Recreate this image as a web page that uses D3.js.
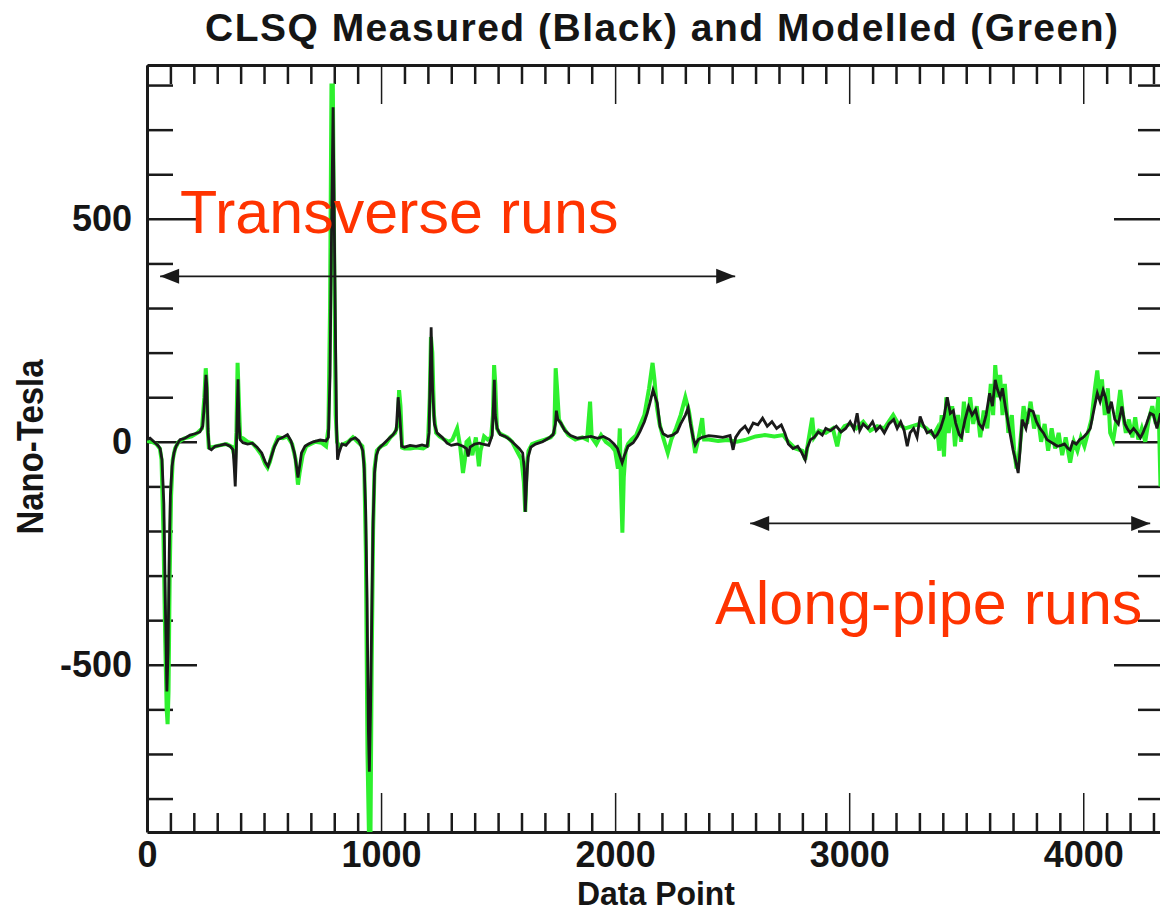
<!DOCTYPE html>
<html lang="en">
<head>
<meta charset="utf-8">
<title>CLSQ Measured and Modelled</title>
<script type="text/javascript" src="https://d3js.org/d3.v7.min.js"></script>
<style type="text/css">
    body { margin: 0; background: #ffffff; }
    svg { display: block; }
    .axis path, .axis line { stroke: #1a1a1a; }
    .axis text {
        font-family: "Liberation Sans", Arial, Helvetica, sans-serif;
        font-weight: bold;
        font-size: 36px;
        fill: #151515;
    }
    .title, .ylabel, .xlabel {
        font-family: "Liberation Sans", Arial, Helvetica, sans-serif;
        font-weight: bold;
        fill: #151515;
    }
    .note {
        font-family: "Liberation Sans", Arial, Helvetica, sans-serif;
        font-size: 61px;
        fill: #ff3300;
    }
</style>
</head>
<body>
<script type="text/javascript">

// ---- data (data point index, nano-tesla) ----
const measuredPoint = [0,13,30,47,56,64,72,78,85,90,95,100,107,115,124,141,162,184,205,226,238,246,252,256,261,266,275,291,312,333,355,368,373,377,381,385,389,393,398,410,430,450,470,490,505,517,530,545,560,580,600,615,630,640,645,652,660,675,690,710,740,765,775,782,788,795,800,806,810,814,820,833,850,870,890,905,915,922,928,934,940,946,950,955,960,966,972,980,990,1010,1035,1051,1065,1073,1080,1088,1100,1124,1150,1175,1197,1205,1210,1214,1220,1228,1239,1261,1282,1300,1325,1350,1365,1372,1380,1400,1420,1440,1460,1475,1480,1484,1488,1496,1509,1530,1550,1570,1590,1605,1612,1616,1622,1628,1640,1660,1690,1715,1735,1745,1749,1755,1768,1785,1810,1840,1870,1897,1925,1950,1975,1995,2010,2022,2030,2040,2055,2077,2095,2107,2125,2137,2150,2162,2172,2180,2192,2205,2225,2245,2265,2280,2300,2312,2322,2333,2342,2355,2372,2400,2430,2460,2491,2504,2515,2534,2555,2570,2590,2610,2630,2650,2670,2690,2710,2725,2740,2760,2780,2795,2812,2820,2835,2850,2868,2885,2900,2920,2945,2965,2985,3004,3020,3034,3045,3060,3080,3100,3115,3132,3150,3170,3190,3205,3220,3235,3248,3260,3275,3290,3303,3315,3333,3350,3365,3376,3390,3405,3419,3432,3445,3455,3470,3480,3495,3510,3525,3540,3555,3570,3585,3600,3612,3624,3632,3645,3655,3667,3680,3700,3710,3722,3730,3739,3755,3770,3786,3800,3815,3830,3845,3860,3875,3889,3905,3920,3935,3944,3955,3970,3985,4000,4017,4030,4045,4060,4072,4085,4095,4107,4120,4135,4150,4165,4178,4188,4200,4215,4230,4244,4255,4270,4286,4300,4315,4330,4340];
const measuredNT = [5,8,0,-8,-15,-40,-140,-350,-560,-470,-250,-120,-55,-25,-10,5,8,15,18,22,35,90,150,120,20,-15,-18,-10,-8,-5,-10,-18,-60,-100,-40,60,140,40,5,-2,-5,-3,-12,-25,-45,-55,-35,-10,5,10,16,2,-25,-60,-80,-55,-25,-10,-5,0,4,2,10,150,450,750,500,200,30,-40,-25,-5,-8,5,9,2,-10,-20,-60,-150,-350,-650,-740,-600,-400,-180,-70,-30,-15,-5,8,16,27,100,60,-10,-12,-8,-10,-7,-10,20,150,257,120,40,20,10,-3,-8,-5,-10,-15,-33,-12,-5,-3,-6,-8,15,80,139,60,30,16,12,5,-5,-15,-25,-60,-157,-90,-35,-12,-5,0,8,16,40,70,50,42,25,14,8,10,12,8,12,5,-5,-15,-35,-47,-30,-10,-2,12,24,45,64,90,116,100,87,34,18,12,15,22,40,60,76,40,10,-7,5,10,14,12,10,14,-18,10,25,35,22,42,38,53,35,45,30,38,20,-5,-15,-10,-22,-40,-15,5,10,22,15,30,25,35,22,30,45,28,64,25,40,30,45,25,35,20,40,50,30,45,25,-10,20,30,10,57,40,20,25,10,16,30,55,100,64,70,42,16,10,50,79,60,72,40,30,60,109,80,139,120,100,120,79,40,-18,-40,-70,-20,50,30,72,68,45,30,20,5,0,-5,-10,-8,-5,-15,-18,0,-5,5,10,20,30,70,109,90,116,100,64,90,50,40,79,40,30,20,30,20,9,20,40,64,60,30,64,20];

const modelledPoint = [0,20,40,55,62,70,78,84,88,92,97,103,110,120,135,160,190,215,235,245,251,255,259,264,280,310,340,365,376,382,387,392,398,410,430,450,470,490,505,515,525,540,560,580,600,620,635,645,652,665,680,700,720,745,765,775,782,788,794,800,806,812,820,840,860,880,900,920,928,935,942,948,955,960,966,972,982,1000,1020,1040,1060,1072,1077,1083,1090,1100,1125,1150,1180,1200,1208,1213,1219,1226,1235,1250,1270,1290,1305,1325,1338,1350,1358,1365,1375,1390,1405,1418,1425,1440,1455,1470,1478,1483,1488,1495,1505,1520,1540,1560,1580,1600,1610,1616,1622,1630,1645,1670,1700,1725,1740,1746,1752,1760,1775,1800,1830,1860,1880,1893,1900,1920,1940,1960,1985,2000,2012,2020,2025,2031,2037,2045,2055,2070,2090,2105,2125,2145,2160,2168,2178,2190,2205,2225,2240,2260,2280,2300,2315,2330,2342,2355,2372,2380,2400,2440,2480,2520,2560,2600,2640,2680,2718,2740,2770,2800,2812,2825,2842,2850,2870,2900,2930,2949,2960,2980,3004,3030,3060,3090,3120,3150,3188,3210,3240,3270,3300,3330,3360,3376,3385,3395,3405,3415,3425,3440,3452,3465,3478,3490,3505,3517,3530,3545,3560,3575,3590,3605,3615,3624,3635,3645,3655,3665,3680,3695,3705,3715,3722,3735,3745,3760,3775,3790,3805,3820,3835,3850,3865,3880,3895,3910,3925,3944,3960,3975,3990,4005,4020,4035,4050,4060,4070,4080,4092,4105,4115,4128,4145,4158,4170,4182,4195,4210,4222,4235,4250,4265,4280,4295,4310,4321,4330,4340];
const modelledNT = [2,0,-5,-15,-40,-200,-450,-600,-633,-560,-300,-120,-40,-15,0,8,12,20,30,100,165,130,30,-12,-12,-8,-5,-12,-40,20,177,100,10,8,0,-3,-15,-30,-50,-58,-45,-15,10,8,12,-5,-40,-96,-70,-30,-10,-5,0,-2,-10,30,300,799,799,400,60,0,-10,-5,0,10,0,-10,-50,-250,-700,-875,-875,-500,-200,-60,-20,-10,-5,10,20,40,116,80,-13,-15,-15,-13,-15,-8,100,235,200,60,20,12,5,0,5,30,-10,-70,-40,0,5,-30,10,-55,-20,12,5,10,60,172,130,30,20,15,10,0,-20,-40,-90,-157,-55,-20,-5,0,5,10,20,165,120,50,35,15,5,10,5,90,10,-5,15,0,-10,-20,-60,30,-100,-204,-80,-20,-5,5,15,35,60,120,177,140,80,40,10,-25,5,30,60,100,70,20,-25,5,53,5,5,2,4,0,5,12,15,12,15,0,-15,-20,-40,0,54,10,25,20,30,-10,20,35,40,30,45,25,35,30,60,40,30,35,40,30,15,30,-20,60,-33,100,20,80,-10,60,0,90,20,100,40,80,10,70,30,130,60,172,100,150,60,130,20,60,-20,-60,-47,20,80,40,90,30,60,0,40,-20,30,-15,20,-30,10,-47,0,-20,10,-10,20,50,120,160,100,140,60,120,20,4,60,116,60,20,50,10,55,5,30,0,50,80,40,100,-100,20];

// axis tick labels
const xMajorTicks = [0, 1000, 2000, 3000, 4000];
const yMajorTicks = [-500, 0, 500];

// text notes and arrows, in data units
const noteText = ["Transverse runs", "Along-pipe runs"];
const notePoint = [141, 2427];
const noteNT = [468, -409];
const arrowFrom = [56, 2577];
const arrowTo = [2513, 4286];
const arrowNT = [371, -183];

// ---- chart size ----
const width = 1160;
const height = 913;
const plotLeft = 147, plotRight = 1164, plotTop = 65, plotBottom = 832;

const x = d3.scaleLinear().domain([0, 4345]).range([plotLeft, plotRight]);
const y = d3.scaleLinear().domain([-875, 845]).range([plotBottom, plotTop]);

const svg = d3.select("body")
    .append("svg")
    .attr("width", width)
    .attr("height", height);

// minor tick values every 100
const xMinor = d3.range(0, 4400, 100).filter(d => d % 1000 !== 0);
const yMinor = d3.range(-800, 900, 100).filter(d => d % 500 !== 0);

// plain hyphen minus like the original, not the unicode minus
const plainNumber = d => String(d);

// bottom axis (labels) + minor ticks
const gBottom = svg.append("g")
    .attr("class", "axis")
    .attr("transform", "translate(0," + plotBottom + ")")
    .call(d3.axisBottom(x).tickValues(xMajorTicks).tickSize(-39).tickSizeOuter(0).tickPadding(9).tickFormat(plainNumber));
gBottom.append("g").call(d3.axisBottom(x).tickValues(xMinor).tickSize(-19).tickSizeOuter(0).tickFormat(""))
    .call(g => g.select(".domain").remove());

// top axis, no labels
const gTop = svg.append("g")
    .attr("class", "axis")
    .attr("transform", "translate(0," + plotTop + ")")
    .call(d3.axisTop(x).tickValues(xMajorTicks).tickSize(-39).tickSizeOuter(0).tickFormat(""));
gTop.append("g").call(d3.axisTop(x).tickValues(xMinor).tickSize(-19).tickSizeOuter(0).tickFormat(""))
    .call(g => g.select(".domain").remove());

// left axis (labels)
const gLeft = svg.append("g")
    .attr("class", "axis")
    .attr("transform", "translate(" + plotLeft + ",0)")
    .call(d3.axisLeft(y).tickValues(yMajorTicks).tickSize(-50).tickSizeOuter(0).tickPadding(15).tickFormat(plainNumber));
gLeft.append("g").call(d3.axisLeft(y).tickValues(yMinor).tickSize(-26).tickSizeOuter(0).tickFormat(""))
    .call(g => g.select(".domain").remove());

// right axis, no labels
const gRight = svg.append("g")
    .attr("class", "axis")
    .attr("transform", "translate(" + plotRight + ",0)")
    .call(d3.axisRight(y).tickValues(yMajorTicks).tickSize(-50).tickSizeOuter(0).tickFormat(""));
gRight.append("g").call(d3.axisRight(y).tickValues(yMinor).tickSize(-26).tickSizeOuter(0).tickFormat(""))
    .call(g => g.select(".domain").remove());

svg.selectAll(".axis .domain").attr("stroke-width", 3);
svg.selectAll(".axis .tick line").attr("stroke-width", 2.5);
gBottom.selectAll(":scope > .tick line").attr("stroke-width", 1.5);
gTop.selectAll(":scope > .tick line").attr("stroke-width", 1.5);

// clip lines to the plot box
svg.append("clipPath").attr("id", "box")
    .append("rect")
    .attr("x", plotLeft).attr("y", plotTop)
    .attr("width", plotRight - plotLeft).attr("height", plotBottom - plotTop);

const line = d3.line()
    .x(d => x(d[0]))
    .y(d => y(d[1]));

// modelled (green) first, measured (black) on top
svg.append("path")
    .datum(modelledPoint.map((p, i) => [p, modelledNT[i]]))
    .attr("clip-path", "url(#box)")
    .attr("fill", "none")
    .attr("stroke", "#2ef02e")
    .attr("stroke-width", 4)
    .attr("d", line);

svg.append("path")
    .datum(measuredPoint.map((p, i) => [p, measuredNT[i]]))
    .attr("clip-path", "url(#box)")
    .attr("fill", "none")
    .attr("stroke", "#1a1a1a")
    .attr("stroke-width", 2.8)
    .attr("d", line);

// red notes
svg.selectAll(".note")
    .data(noteText)
    .enter()
    .append("text")
    .attr("class", "note")
    .attr("x", (d, i) => x(notePoint[i]))
    .attr("y", (d, i) => y(noteNT[i]))
    .text(d => d);

// double arrows
const head = 19, half = 7.5;
arrowNT.forEach(function (v, i) {
    const x0 = x(arrowFrom[i]), x1 = x(arrowTo[i]), yy = y(v);
    svg.append("line")
        .attr("x1", x0).attr("x2", x1)
        .attr("y1", yy).attr("y2", yy)
        .attr("stroke", "#1a1a1a")
        .attr("stroke-width", 1.6);
    svg.append("path")
        .attr("d", "M" + x0 + "," + yy + "L" + (x0 + head) + "," + (yy - half) + "L" + (x0 + head) + "," + (yy + half) + "Z")
        .attr("fill", "#1a1a1a");
    svg.append("path")
        .attr("d", "M" + x1 + "," + yy + "L" + (x1 - head) + "," + (yy - half) + "L" + (x1 - head) + "," + (yy + half) + "Z")
        .attr("fill", "#1a1a1a");
});

// title and axis titles
svg.append("text")
    .attr("class", "title")
    .attr("x", 205)
    .attr("y", 41)
    .attr("font-size", 39)
    .attr("textLength", 913)
    .attr("lengthAdjust", "spacing")
    .text("CLSQ Measured (Black) and Modelled (Green)");

svg.append("text")
    .attr("class", "xlabel")
    .attr("x", 577)
    .attr("y", 905)
    .attr("font-size", 33)
    .attr("textLength", 158)
    .attr("lengthAdjust", "spacingAndGlyphs")
    .text("Data Point");

svg.append("text")
    .attr("class", "ylabel")
    .attr("transform", "translate(43,447) rotate(-90)")
    .attr("text-anchor", "middle")
    .attr("font-size", 37)
    .attr("textLength", 175)
    .attr("lengthAdjust", "spacingAndGlyphs")
    .text("Nano-Tesla");

</script>
</body>
</html>
